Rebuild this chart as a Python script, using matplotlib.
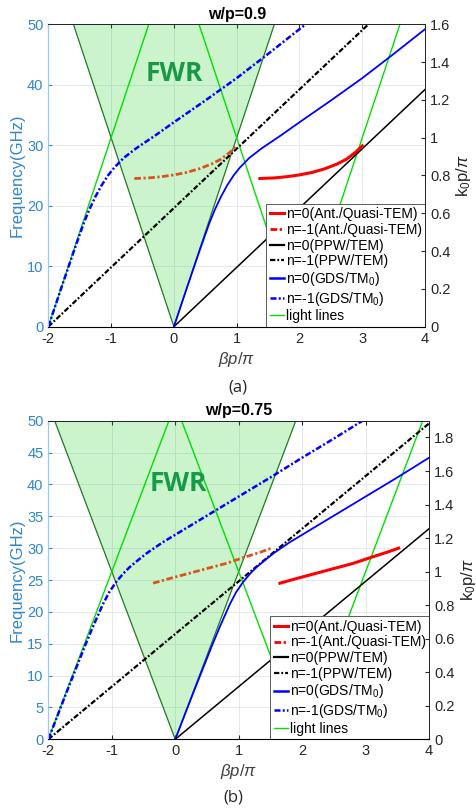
import numpy as np
import matplotlib
matplotlib.use("Agg")
import matplotlib.pyplot as plt
from matplotlib.ticker import FuncFormatter, MultipleLocator
from matplotlib.lines import Line2D

plt.rcParams["font.family"] = ["Liberation Sans", "DejaVu Sans"]
plt.rcParams["axes.unicode_minus"] = False
plt.rcParams["mathtext.fontset"] = "custom"
plt.rcParams["mathtext.rm"] = "Liberation Sans"
plt.rcParams["mathtext.it"] = "Liberation Sans:italic"

# ---- w/p = 0.9 --------------------------------------------------------
A_K0_TOP = 1.6                      # k0 p / pi at 50 GHz
A_TEM_BETA = [0.0, 5.2]
A_TEM_FREQ = [0.0, 51.0]
A_GDS_BETA = [0.0, 0.2, 0.4, 0.56, 0.65, 0.75, 0.85, 0.95, 1.05, 1.2, 1.4,
              1.7, 2.0, 2.5, 3.0, 3.5, 4.0, 4.3]
A_GDS_FREQ = [0.0, 6.2, 12.3, 17.0, 19.3, 21.5, 23.4, 25.0, 26.3, 27.9, 29.5,
              31.6, 33.8, 37.4, 41.1, 45.1, 49.2, 51.6]
A_ANT_BETA = [1.37, 1.6, 1.8, 2.0, 2.2, 2.4, 2.6, 2.75, 2.9, 3.0]
A_ANT_FREQ = [24.5, 24.6, 24.8, 25.1, 25.5, 26.1, 26.9, 27.7, 28.9, 29.9]

# ---- w/p = 0.75 -------------------------------------------------------
B_K0_TOP = 1.9
B_TEM_BETA = [0.0, 6.05]
B_TEM_FREQ = [0.0, 50.0]
B_GDS_BETA = [0.0, 0.3, 0.575, 0.7, 0.86, 0.96, 1.07, 1.18, 1.28, 1.4, 1.55,
              1.8, 2.0, 2.5, 3.0, 3.5, 4.0, 4.5, 5.0]
B_GDS_FREQ = [0.0, 7.7, 14.6, 17.6, 21.2, 23.1, 24.7, 26.0, 27.0, 28.0, 29.2,
              30.9, 32.1, 35.1, 38.1, 41.1, 44.2, 47.2, 50.3]
B_ANT_BETA = [1.65, 1.9, 2.2, 2.5, 2.8, 3.1, 3.35, 3.52]
B_ANT_FREQ = [24.5, 25.2, 26.0, 26.8, 27.6, 28.6, 29.4, 30.0]

F_MAX = 50.0
LEFT_BLUE = "#2f86cc"
DASHDOT = (2.4, 0.9, 0.8, 0.9)


def fmt_g(v, _):
    return f"{v:g}"


def draw_panel(ax, k0_top, tem_b, tem_f, gds_b, gds_f, ant_b, ant_f,
               f_step, fwr_xy, title):
    k = np.array([0.0, k0_top])
    f = np.array([0.0, F_MAX])

    # fast-wave region |beta| < k0, shaded
    ax.fill([-k0_top, 0, k0_top], [F_MAX, 0, F_MAX],
            color="#00cc00", alpha=0.2, lw=0, zorder=1)
    ax.plot([-k0_top, 0, k0_top], [F_MAX, 0, F_MAX],
            color="#1f7a1f", lw=0.9, zorder=2)
    # n = -1 light lines (beta +/- 2)
    for sgn, shift in [(1, -2), (-1, 2), (1, 2), (-1, -2)]:
        ax.plot(shift + sgn * k, f, color="#00e000", lw=1.0, zorder=2)

    ant_b = np.asarray(ant_b)
    gds_b = np.asarray(gds_b)
    tem_b = np.asarray(tem_b)

    ax.plot(tem_b, tem_f, color="black", lw=1.1, zorder=3)
    ax.plot(tem_b - 2, tem_f, color="black", lw=1.6, zorder=3,
            dashes=DASHDOT)
    ax.plot(gds_b, gds_f, color="#0000ff", lw=1.3, zorder=4)
    ax.plot(gds_b - 2, gds_f, color="#0000ff", lw=1.8, zorder=4,
            dashes=DASHDOT)
    ax.plot(ant_b, ant_f, color="#ff0000", lw=2.2, zorder=5)
    ax.plot(ant_b - 2, ant_f, color="#d9531e", lw=2.0, zorder=5,
            dashes=DASHDOT)

    ax.text(fwr_xy[0], fwr_xy[1], "FWR", family=["Open Sans", "DejaVu Sans"],
            fontsize=19, fontweight="bold", color="#179a48",
            ha="center", va="center", zorder=6)

    ax.set_xlim(-2, 4)
    ax.set_ylim(0, F_MAX)
    ax.xaxis.set_major_locator(MultipleLocator(1))
    ax.yaxis.set_major_locator(MultipleLocator(f_step))
    ax.xaxis.set_major_formatter(FuncFormatter(fmt_g))
    ax.grid(True, color="#dfe5ec", lw=0.6)
    ax.set_axisbelow(True)
    ax.tick_params(direction="in", length=3, labelsize=10, top=True)
    ax.tick_params(axis="y", colors=LEFT_BLUE, labelsize=10.5)
    ax.tick_params(axis="x", colors="#262626", labelsize=10.5)
    for s in ["top", "bottom", "right"]:
        ax.spines[s].set_color("#262626")
        ax.spines[s].set_linewidth(0.7)
    ax.spines["left"].set_color("#9cc8ea")
    ax.set_xlabel(r"$\beta p/\pi$", fontsize=12, color="#404040", labelpad=3)
    ax.set_ylabel("Frequency(GHz)", fontsize=12, color=LEFT_BLUE, labelpad=2)
    ax.set_title(title, fontsize=11.5, fontweight="bold", pad=4)

    handles = [
        Line2D([], [], color="#ff0000", lw=2.2),
        Line2D([], [], color="#ff0000", lw=2.0, dashes=(2.4, 0.9, 0.8, 0.9)),
        Line2D([], [], color="black", lw=1.6),
        Line2D([], [], color="black", lw=1.6, dashes=(2.4, 0.9, 0.8, 0.9)),
        Line2D([], [], color="#0000ff", lw=1.8),
        Line2D([], [], color="#0000ff", lw=1.8, dashes=(2.4, 0.9, 0.8, 0.9)),
        Line2D([], [], color="#00e000", lw=1.0),
    ]
    labels = [
        "n=0(Ant./Quasi-TEM)",
        "n=-1(Ant./Quasi-TEM)",
        "n=0(PPW/TEM)",
        "n=-1(PPW/TEM)",
        r"n=0(GDS/TM$_0$)",
        r"n=-1(GDS/TM$_0$)",
        "light lines",
    ]
    leg = ax.legend(handles, labels, loc="lower right", fontsize=10,
                    borderaxespad=0, fancybox=False, framealpha=1,
                    edgecolor="#5a5a5a", handlelength=1.0, handletextpad=0.15,
                    labelspacing=0.12, borderpad=0.25)
    leg.get_frame().set_linewidth(0.7)
    leg.set_zorder(10)

    ax2 = ax.twinx()
    ax2.set_ylim(0, k0_top)
    ax2.yaxis.set_major_locator(MultipleLocator(0.2))
    ax2.yaxis.set_major_formatter(FuncFormatter(fmt_g))
    ax2.tick_params(direction="in", length=3, labelsize=10.5, colors="#262626")
    ax2.spines["right"].set_color("#262626")
    ax2.spines["right"].set_linewidth(0.7)
    ax2.spines["left"].set_color("#9cc8ea")
    ax2.spines["top"].set_color("#262626")
    ax2.spines["top"].set_linewidth(0.7)
    ax2.set_ylabel(r"k$_0$p/$\pi$", fontsize=12, color="#262626", labelpad=3)
    return ax2


fig = plt.figure(figsize=(4.76, 8.10), dpi=100)

ax_a = fig.add_axes([0.1015, 0.5967, 0.7915, 0.3733])
draw_panel(ax_a, A_K0_TOP, A_TEM_BETA, A_TEM_FREQ, A_GDS_BETA, A_GDS_FREQ,
           A_ANT_BETA, A_ANT_FREQ, 10, (0.0, 41.8), "w/p=0.9")

ax_b = fig.add_axes([0.1015, 0.0873, 0.8000, 0.3933])
draw_panel(ax_b, B_K0_TOP, B_TEM_BETA, B_TEM_FREQ, B_GDS_BETA, B_GDS_FREQ,
           B_ANT_BETA, B_ANT_FREQ, 5, (0.05, 40.2), "w/p=0.75")

cap_font = ["Open Sans", "DejaVu Sans"]
fig.text(0.5, 0.522, "(a)", ha="center", va="center", fontsize=12,
         family=cap_font, color="#262626")
fig.text(0.49, 0.016, "(b)", ha="center", va="center", fontsize=12,
         family=cap_font, color="#262626")

fig.savefig("out.png", dpi=100)
